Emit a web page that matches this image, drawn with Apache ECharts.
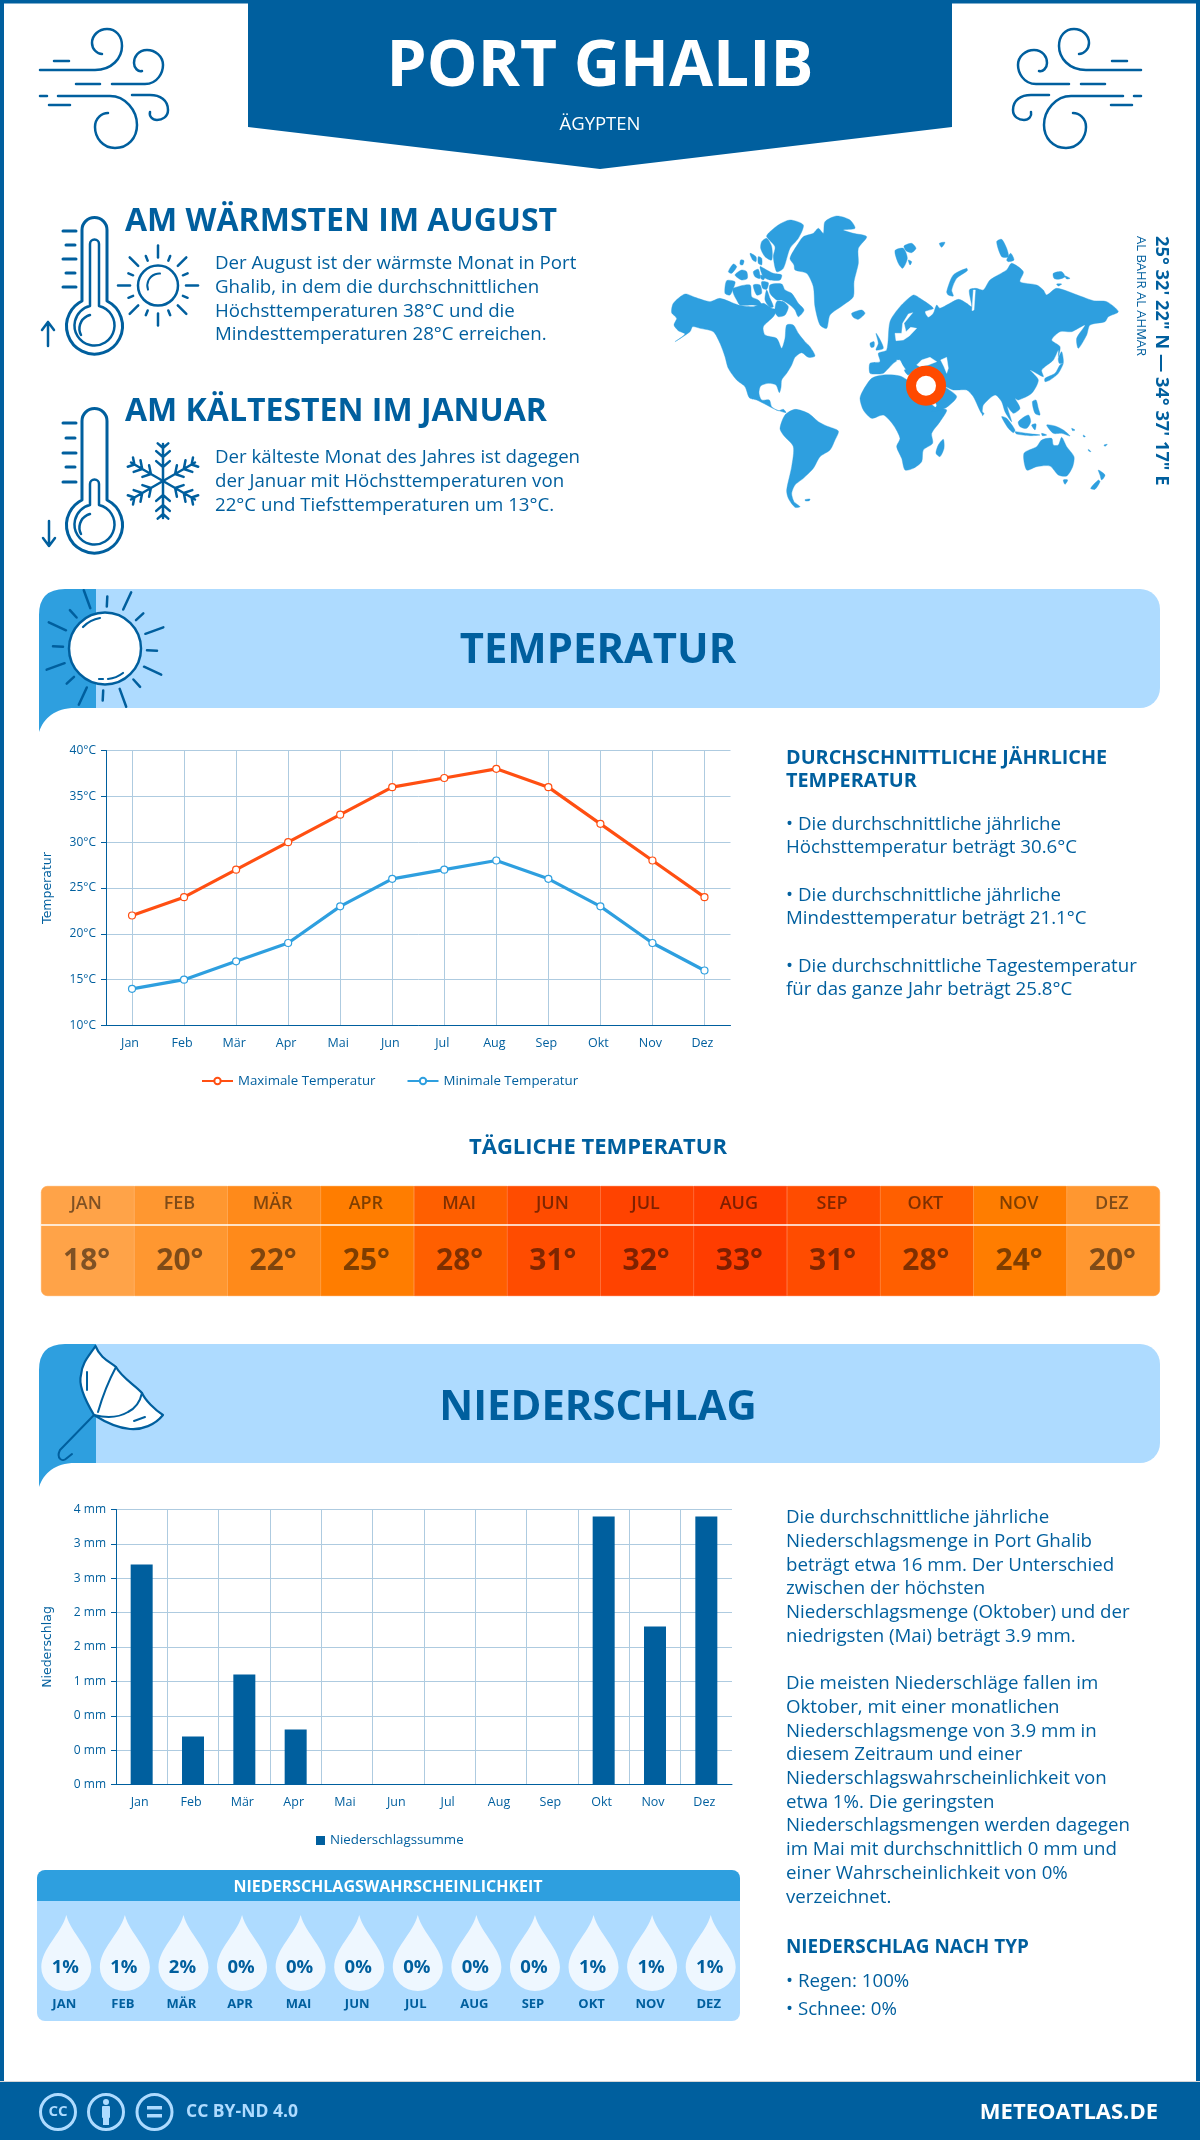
<!DOCTYPE html>
<html><head><meta charset="utf-8">
<style>html,body{margin:0;padding:0;background:#fff}#c{width:1200px;height:2140px}</style>
<script src="https://cdn.jsdelivr.net/npm/echarts@6/dist/echarts.min.js"></script>
</head><body><div id="c"></div>
<script>
const months = ['Jan','Feb','Mär','Apr','Mai','Jun','Jul','Aug','Sep','Okt','Nov','Dez'];
const monthsUpper = ['JAN','FEB','MÄR','APR','MAI','JUN','JUL','AUG','SEP','OKT','NOV','DEZ'];
const tempMax = [22,24,27,30,33,36,37,38,36,32,28,24];
const tempMin = [14,15,17,19,23,26,27,28,26,23,19,16];
const dailyTemp = [18,20,22,25,28,31,32,33,31,28,24,20];
const dailyColors = ['#ffa348','#ff9730','#ff8a1a','#ff7d00','#ff5f00','#ff4c00','#ff4300','#ff3d00','#ff4c00','#ff5f00','#ff7d00','#ff9730'];
const precip = [3.2,0.7,1.6,0.8,0,0,0,0,0,3.9,2.3,3.9];
const precipTicks = ['0 mm','0 mm','0 mm','1 mm','2 mm','2 mm','3 mm','3 mm','4 mm'];
const precipProb = [1,1,2,0,0,0,0,0,0,1,1,1];
const tempSide = [
 ['• Die durchschnittliche jährliche',825],['Höchsttemperatur beträgt 30.6°C',848],
 ['• Die durchschnittliche jährliche',896],['Mindesttemperatur beträgt 21.1°C',919],
 ['• Die durchschnittliche Tagestemperatur',967],['für das ganze Jahr beträgt 25.8°C',990]];
const precipSide = ['Die durchschnittliche jährliche','Niederschlagsmenge in Port Ghalib','beträgt etwa 16 mm. Der Unterschied','zwischen der höchsten','Niederschlagsmenge (Oktober) und der','niedrigsten (Mai) beträgt 3.9 mm.','',
 'Die meisten Niederschläge fallen im','Oktober, mit einer monatlichen','Niederschlagsmenge von 3.9 mm in','diesem Zeitraum und einer','Niederschlagswahrscheinlichkeit von','etwa 1%. Die geringsten','Niederschlagsmengen werden dagegen','im Mai mit durchschnittlich 0 mm und','einer Wahrscheinlichkeit von 0%','verzeichnet.'];
const warmText = ['Der August ist der wärmste Monat in Port','Ghalib, in dem die durchschnittlichen','Höchsttemperaturen 38°C und die','Mindesttemperaturen 28°C erreichen.'];
const coldText = ['Der kälteste Monat des Jahres ist dagegen','der Januar mit Höchsttemperaturen von','22°C und Tiefsttemperaturen um 13°C.'];

const NAVY='#005f9e', SKY='#2e9fdf', PALE='#aedbff', FONT='"Open Sans",sans-serif';

// outline helper for the decorative world map: crop origin + traced points
function P(ox,oy,s){return s.trim().split(/\s+/).map(p=>{const [a,b]=p.split(',').map(Number);return [ox+a/3,oy+b/3];});}
const A=(s)=>P(670,210,s), B=(s)=>P(890,210,s), C=(s)=>P(720,350,s), D=(s)=>P(930,350,s);
const landShapes=[
 // North & Central America
 A('5,308 10,280 45,252 75,262 120,275 150,265 205,285 250,290 280,280 305,295 320,300 310,320 280,350 285,375 320,385 335,415 345,385 350,345 370,345 385,370 405,395 420,410 435,438').concat(
 C('265,22 245,8 225,22 215,45 200,70 185,90 183,112 178,128 168,105 145,100 122,108 117,130 125,150 148,150 155,170 175,182 190,178 198,188 165,178 140,165 110,150 88,143 75,110 50,90 25,55 15,20'),
 A('150,400 130,365 90,355 68,350 60,365 15,395 45,372 25,362 12,345 20,325')),
 // Arctic islands
 A('295,70 325,45 360,30 400,45 385,85 360,115 340,175 320,185 310,140 315,110 290,80'),
 A('275,95 290,85 305,110 305,150 285,140 272,115'),
 A('175,185 190,162 200,170 185,190'),A('195,195 215,180 230,185 232,205 215,210'),A('212,150 222,152 218,165 210,163'),
 A('240,130 258,140 258,155 248,150'),A('265,140 275,145 275,165 265,160'),A('250,185 265,178 270,205 255,200'),
 A('270,170 290,180 310,190 335,195 330,210 300,210 280,200'),A('272,195 285,200 280,210 272,205'),
 A('170,212 195,215 190,235 180,255 165,250'),A('190,235 240,225 245,260 265,270 275,285 245,285 210,285 200,270 190,250'),
 A('250,225 270,225 275,250 260,255'),A('275,215 295,218 290,238 278,235'),
 A('300,225 335,222 345,240 365,250 385,280 402,300 385,320 375,300 360,285 335,270 320,270 300,250'),
 A('290,240 300,265 310,290 300,292 285,270'),A('320,275 340,275 355,290 345,315 325,320 315,305'),
 // Greenland, Iceland, British Isles
 A('360,145 385,100 400,80 430,70 445,55 460,70 465,35 500,18 540,30 555,55 520,60 550,70 590,80 565,115 565,160 552,215 550,260 520,285 480,315 470,355 450,345 435,290 430,230 410,190 375,180 372,165'),
 A('545,310 575,300 585,310 565,328 550,322'),A('600,400 612,395 612,410 603,412'),A('618,370 628,385 640,415 618,420 625,400'),
 // South America
 C('180,235 195,195 225,178 265,190 295,215 320,228 355,243 345,270 330,300 300,320 280,355 250,385 225,405 215,430 222,455 240,470 225,472 205,445 200,420 215,350 220,290 190,255'),
 C('255,449 270,447 268,452 257,453'),
 // Africa
 C('420,145 430,120 455,85 490,75 540,78 575,100 600,130 650,175 680,180 660,215 635,250 638,280 610,300 605,335 580,355 555,360 545,325 530,290 540,265 520,225 490,195 455,205 430,180'),
 C('670,268 672,295 660,320 648,310 655,285'),
 // Eurasia
 C('450,70 450,40 480,35 475,10 500,0').concat(
 B('0,335 30,290 70,255 90,265 130,295 105,305 115,322 130,310 140,285 150,295 205,268 230,280 245,290 238,240 258,235 280,240 300,210 350,180 365,160 400,185 390,215 440,225 460,240 470,255 500,235 570,258 610,272 650,275 685,305 655,320 645,335 600,345 590,375 565,415 560,385 585,345 545,365 510,365 485,390 510,410 505,440'),
 D('385,0 370,30 335,60 340,80 300,60 325,90 305,130 265,150 255,145 270,175 250,190 232,170 245,215 225,185 215,155 195,135 160,165 155,190 130,140 110,120 70,120 45,110 80,140 45,175 5,185'),
 C('650,165 610,110 590,80 630,62 590,55 565,75 555,65 540,30 520,40 490,70 470,72')),
 // Eurasian islands
 B('15,122 40,115 52,145 38,175 25,160'),B('42,108 65,100 78,115 65,128 48,122'),B('55,150 65,155 60,165'),B('148,100 165,97 155,112'),
 B('170,245 190,195 230,175 232,182 200,205 185,240 190,258 175,255'),B('320,95 335,88 350,115 355,140 335,140'),B('350,150 362,130 372,150 355,155'),
 B('490,190 515,185 525,200 505,208 492,205'),B('525,198 540,205 530,207'),B('500,222 515,222 505,228'),
 D('345,95 345,85 375,70 390,45 400,40 385,70 360,90'),D('385,25 395,5 400,38 388,40'),D('307,155 318,150 325,175 330,195 315,190'),
 D('215,200 230,205 255,240 250,248 235,235'),D('255,245 290,250 330,255 300,257 260,252'),D('265,215 295,195 302,215 290,235 270,230'),D('305,225 318,222 315,240'),
 D('350,225 375,228 400,240 420,258 395,250 370,250'),D('425,235 435,240 428,242'),D('475,298 483,305 476,303'),D('522,285 532,283 525,289'),D('460,255 466,260 461,261'),D('335,250 350,255 337,257'),
 D('155,185 162,190 158,197'),
 // Australia and New Zealand
 D('282,310 320,290 335,270 365,265 370,285 385,285 395,262 410,290 432,320 428,350 410,378 385,375 360,348 320,350 290,360'),
 D('400,390 413,390 405,403'),D('505,360 525,375 515,390 510,375'),D('482,415 505,390 510,395 495,418')
];
const waterShapes=[
 B('18,392 40,390 58,378 80,355 62,352 48,365 42,340 68,308 55,312 38,340 35,370 15,370'),
 B('250,240 256,240 252,300 246,302'),
 C('590,45 605,30 630,22 650,35 625,45 600,50'),D('32,30 50,22 55,55 50,70 42,50'),C('530,30 538,32 556,58 550,60')
];

const windPaths = [
 'M40,70 H95 C112,70 122,58 122,46 C122,36 116,29 107,29 C99,29 92,35 92,43 C92,49 97,54 102,54',
 'M54,61 H69','M76,84 H100',
 'M112,84 H145 C158,84 163,72 163,65 C163,56 155,50 147,50 C138,50 134,57 134,63 C134,68 138,72 142,71',
 'M40,96 H47','M58,96 H110 C125,96 137,110 137,125 C137,138 128,148 115,148 C103,148 95,138 95,127 C95,118 102,113 108,113',
 'M132,95 H150 C160,95 168,100 168,110 C168,117 162,120 157,120 C152,120 149,116 150,112','M49,105 H70'
];

function txt(text,x,y,size,weight,color,align,rot){
  return {type:'text',x:rot?x:0,y:rot?y:0,rotation:rot||0,silent:true,
    style:{text,x:rot?0:x,y:rot?0:y,fill:color||NAVY,font:`${weight||400} ${size}px ${FONT}`,textAlign:align||'left',textVerticalAlign:'middle'}};
}
function line(d,w,c,fill){return {type:'path',silent:true,shape:{pathData:d},style:{fill:fill||'none',stroke:c||NAVY,lineWidth:w||2.5,lineCap:'round',lineJoin:'round'}};}
function poly(pts,c,sm){return {type:'polygon',silent:true,shape:{points:pts,smooth:sm||0},style:{fill:c,stroke:c,lineWidth:0.4,lineJoin:'round'}};}
function rect(x,y,w,h,c,r){return {type:'rect',silent:true,shape:{x,y,width:w,height:h,r:r||0},style:{fill:c}};}

function thermometer(hot){
  const top=hot?230:421, bulb=hot?325:524, out=[];
  out.push(line(`M82,${top} A12,12 0 0 1 107,${top} L107,${bulb-24} A28,28 0 1 1 82,${bulb-24} Z`,3));
  if(hot) out.push(line(`M90,${top+14} A4,4 0 0 1 99,${top+14} L99,${bulb-19} A20,20 0 1 1 90,${bulb-19} Z`,2.5));
  else out.push(line(`M90,${bulb-40} A4,4 0 0 1 99,${bulb-40} L99,${bulb-19} A20,20 0 1 1 90,${bulb-19} Z`,2.5));
  out.push(line(`M81,${bulb+10} A14,14 0 0 1 90,${bulb-10}`,2.5));
  const ty=hot?[231,245,259,273,287]:[423,438,453,467,482];
  ty.forEach((y,i)=>out.push(line(`M${i%2?66:63},${y} H${i%2?75:76}`,3)));
  if(hot) out.push(line('M48,346 V322 M42,330 L48,322 L54,330',2.5));
  else out.push(line('M49,521 V546 M43,538 L49,546 L55,538',2.5));
  return out;
}
function sunIcon(cx,cy){
  const o=[{type:'circle',silent:true,shape:{cx,cy,r:20},style:{fill:'none',stroke:NAVY,lineWidth:2.5}},line(`M${cx-10},${cy+4} A12,12 0 0 1 ${cx+2},${cy-12}`,2)];
  for(let i=0;i<16;i++){const a=(-90+i*22.5)*Math.PI/180,long=i%2==0,r1=long?28:27,r2=long?40:32;
    o.push(line(`M${(cx+r1*Math.cos(a)).toFixed(1)},${(cy+r1*Math.sin(a)).toFixed(1)} L${(cx+r2*Math.cos(a)).toFixed(1)},${(cy+r2*Math.sin(a)).toFixed(1)}`,2.5));}
  return o;
}
function snow(cx,cy){
  const o=[],R=37;
  for(let i=0;i<6;i++){
    const a=(i*60-90)*Math.PI/180, c=Math.cos(a), s=Math.sin(a);
    let d=`M${cx},${cy} L${(cx+R*c).toFixed(1)},${(cy+R*s).toFixed(1)}`;
    [[14,9],[24,9],[33,7]].forEach(([p,l])=>{
      [-1,1].forEach(sg=>{const b=a+sg*0.85;
        d+=` M${(cx+p*c).toFixed(1)},${(cy+p*s).toFixed(1)} L${(cx+p*c+l*Math.cos(b)).toFixed(1)},${(cy+p*s+l*Math.sin(b)).toFixed(1)}`;});
    });
    o.push(line(d,2.5));
  }
  return o;
}
function banner(y0,y1){
  const mid=96;
  return [
    {type:'path',silent:true,shape:{pathData:`M${mid},${y0} H1140 A20,20 0 0 1 1160,${y0+20} V${y1-20} A20,20 0 0 1 1140,${y1} H${mid} Z`},style:{fill:PALE}},
    {type:'path',silent:true,shape:{pathData:`M39,${y0+26} Q39,${y0} 65,${y0} L${mid},${y0} L${mid},${y1} L75,${y1} C55,${y1} 44,${y1+10} 39,${y1+24} Z`},style:{fill:SKY}}
  ];
}
function bannerSun(){
  const cx=105,cy=648.5,o=[];
  for(let i=0;i<16;i++){const a=(-110+i*22.5)*Math.PI/180,long=i%2==0,r1=long?43:42,r2=long?62:52;
    o.push(line(`M${(cx+r1*Math.cos(a)).toFixed(1)},${(cy+r1*Math.sin(a)).toFixed(1)} L${(cx+r2*Math.cos(a)).toFixed(1)},${(cy+r2*Math.sin(a)).toFixed(1)}`,2.5));}
  o.push({type:'circle',silent:true,shape:{cx,cy,r:36},style:{fill:'#fff',stroke:NAVY,lineWidth:2.5}});
  o.push(line('M83,627 A30,30 0 0 1 100,618',2.2),line('M108,679 A30,30 0 0 0 123,673 M99,679 H103',2.2));
  return o;
}
function umbrella(){
  return [
    line('M95.5,1346 C100,1358 110,1362 116,1367 C122,1378 135,1385 142,1393 C145,1400 155,1410 163,1415 C155,1425 142,1430 130,1429 C118,1428 105,1422 94,1415 C85,1400 78,1385 81,1375 C82,1362 90,1355 95.5,1346 Z',2.2,NAVY,'#fff'),
    line('M116,1367 C108,1382 102,1398 98,1412 M142,1393 C140,1402 136,1408 128,1412 C118,1418 106,1418 94,1415',2),
    line('M87,1372 V1390 M134,1421 L145,1417',2),
    line('M94,1415 L60,1450 C56,1458 62,1463 67,1458 L72,1454',2)
  ];
}

function decor(){
  const el=[];
  el.push(rect(0,0,4,2140,NAVY),rect(1196,0,4,2140,NAVY),rect(0,0,1200,3.5,NAVY));
  el.push({type:'polygon',silent:true,shape:{points:[[248,0],[952,0],[952,127],[600,169],[248,127]]},style:{fill:NAVY}});
  el.push(rect(0,2082,1200,58,NAVY),rect(0,2081,1200,1,'#d6d6d6'));
  el.push(txt('PORT GHALIB',600,68,64,700,'#fff','center'),txt('ÄGYPTEN',600,125,18.5,400,'#fff','center'));
  el.push({type:'group',children:windPaths.map(d=>line(d,2.5))});
  el.push({type:'group',x:1181,y:0,scaleX:-1,scaleY:1,children:windPaths.map(d=>line(d,2.5))});
  el.push(txt('AM WÄRMSTEN IM AUGUST',125,222,32,700),txt('AM KÄLTESTEN IM JANUAR',125,412,32,700));
  warmText.forEach((s,i)=>el.push(txt(s,215,264+i*23.7,18.7)));
  coldText.forEach((s,i)=>el.push(txt(s,215,458+i*23.7,18.7)));
  el.push(...thermometer(true),...thermometer(false),...sunIcon(158,285.6),...snow(163,481));
  landShapes.forEach(p=>el.push(poly(p,SKY,0.25)));
  waterShapes.forEach(p=>el.push(poly(p,'#fff',0)));
  el.push({type:'circle',silent:true,shape:{cx:926,cy:385.7,r:15},style:{fill:'#fff',stroke:'#ff4a00',lineWidth:10}});
  el.push(txt('25° 32\' 22" N — 34° 37\' 17" E',1161,236,18.3,700,NAVY,'left',-Math.PI/2));
  el.push(txt('AL BAHR AL AHMAR',1141,236,13,400,NAVY,'left',-Math.PI/2));
  el.push(...banner(589,708),...bannerSun(),txt('TEMPERATUR',598,651,41.8,700,NAVY,'center'));
  el.push(...banner(1344,1463),...umbrella(),txt('NIEDERSCHLAG',598,1408,41.8,700,NAVY,'center'));
  el.push(txt('DURCHSCHNITTLICHE JÄHRLICHE',786,758,19.8,700),txt('TEMPERATUR',786,781,19.8,700));
  tempSide.forEach(([s,y])=>el.push(txt(s,786,y,18.7)));
  el.push(txt('TÄGLICHE TEMPERATUR',598,1148,22,700,NAVY,'center'));
  precipSide.forEach((s,i)=>{if(s)el.push(txt(s,786,1518+i*23.7,18.7));});
  el.push(txt('NIEDERSCHLAG NACH TYP',786,1948,18.9,700),txt('• Regen: 100%',786,1982,18.7),txt('• Schnee: 0%',786,2010,18.7));
  el.push({type:'path',silent:true,shape:{pathData:'M37,1901 V1878 A8,8 0 0 1 45,1870 H732 A8,8 0 0 1 740,1878 V1901 Z'},style:{fill:SKY}});
  el.push({type:'path',silent:true,shape:{pathData:'M37,1901 H740 V2013 A8,8 0 0 1 732,2021 H45 A8,8 0 0 1 37,2013 Z'},style:{fill:PALE}});
  el.push(txt('NIEDERSCHLAGSWAHRSCHEINLICHKEIT',388,1887,16,700,'#fff','center'));
  const LB='#aedbff';
  [58,106,154.5].forEach(cx=>el.push({type:'circle',silent:true,shape:{cx,cy:2112,r:17.5},style:{fill:'none',stroke:LB,lineWidth:3}}));
  el.push(txt('CC',58,2112,15,700,LB,'center'));
  el.push({type:'circle',silent:true,shape:{cx:106,cy:2102,r:3},style:{fill:LB}},rect(102,2106,8,12,LB,1),rect(103,2118,6,7,LB));
  el.push(rect(147,2106,15,3.5,LB),rect(147,2114,15,3.5,LB));
  el.push(txt('CC BY-ND 4.0',186,2112,17.5,700,LB),txt('METEOATLAS.DE',1158,2113,22,700,'#fff','right'));
  return el;
}

const axisLab={color:NAVY,fontFamily:FONT,fontSize:12};
const xLab={...axisLab,fontSize:12.5,margin:11,interval:0,padding:[0,4,0,0]};
const split={show:true,lineStyle:{color:'#aecbe0',width:1}};
const nameStyle={color:NAVY,fontFamily:'"DejaVu Sans",sans-serif',fontSize:12.5};
const option={
  animation:false,
  backgroundColor:'#fff',
  grid:[
    {left:106,right:469.5,top:750.5,height:275},
    {left:116,right:468,top:1509.5,height:275},
    {left:41,width:1119,top:1186,height:110},
    {left:37,width:703,top:1915,height:76}
  ],
  legend:[
    {data:['Maximale Temperatur','Minimale Temperatur'],left:196,top:1069.5,itemWidth:31,itemHeight:8,itemGap:31,textStyle:{color:NAVY,fontFamily:FONT,fontSize:13.3}},
    {data:['Niederschlagssumme'],left:311,top:1829,icon:'rect',itemWidth:9,itemHeight:9,textStyle:{color:NAVY,fontFamily:FONT,fontSize:13.3}}
  ],
  xAxis:[
    {gridIndex:0,type:'category',data:months,boundaryGap:true,axisTick:{show:false},axisLine:{lineStyle:{color:NAVY}},axisLabel:xLab,splitLine:{...split,alignWithLabel:true,interval:0}},
    {gridIndex:1,type:'category',data:months,boundaryGap:true,axisTick:{show:false},axisLine:{lineStyle:{color:NAVY}},axisLabel:xLab,splitLine:{...split,showMaxLine:false,interval:0}},
    {gridIndex:2,type:'category',data:monthsUpper,position:'top',z:10,axisTick:{show:false},axisLine:{show:false},axisLabel:{inside:true,margin:9,interval:0,padding:[0,3,0,0],color:'rgba(0,0,0,0.5)',fontFamily:FONT,fontSize:18,fontWeight:600}},
    {gridIndex:3,type:'category',data:monthsUpper,axisTick:{show:false},axisLine:{show:false},axisLabel:{margin:7,interval:0,padding:[0,4,0,0],color:NAVY,fontFamily:FONT,fontSize:13,fontWeight:700}}
  ],
  yAxis:[
    {gridIndex:0,type:'value',min:10,max:40,interval:5,name:'Temperatur',nameLocation:'middle',nameGap:52,nameRotate:90,nameTextStyle:nameStyle,
     axisLine:{show:true,lineStyle:{color:NAVY}},axisTick:{show:true,length:5,lineStyle:{color:NAVY}},axisLabel:{...axisLab,margin:10,formatter:'{value}°C'},splitLine:split},
    {gridIndex:1,type:'value',min:0,max:4,interval:0.5,name:'Niederschlag',nameLocation:'middle',nameGap:62,nameRotate:90,nameTextStyle:nameStyle,
     axisLine:{show:true,lineStyle:{color:NAVY}},axisTick:{show:true,length:5,lineStyle:{color:NAVY}},axisLabel:{...axisLab,margin:10,formatter:v=>precipTicks[Math.round(v/0.5)]},splitLine:split},
    {gridIndex:2,type:'value',min:0,max:1,show:false},
    {gridIndex:3,type:'value',min:-1,max:1,show:false}
  ],
  series:[
    {type:'custom',coordinateSystem:'none',data:[[0]],silent:true,z:0,renderItem:()=>({type:'group',children:decor()})},
    {name:'Maximale Temperatur',type:'line',xAxisIndex:0,yAxisIndex:0,data:tempMax,z:5,lineStyle:{color:'#ff4f12',width:3.2},symbol:'circle',symbolSize:7,itemStyle:{color:'#fff',borderColor:'#ff4f12',borderWidth:1.2}},
    {name:'Minimale Temperatur',type:'line',xAxisIndex:0,yAxisIndex:0,data:tempMin,z:5,lineStyle:{color:SKY,width:3.2},symbol:'circle',symbolSize:7,itemStyle:{color:'#fff',borderColor:SKY,borderWidth:1.2}},
    {name:'Niederschlagssumme',type:'bar',xAxisIndex:1,yAxisIndex:1,data:precip,barWidth:22,itemStyle:{color:NAVY},z:5},
    {name:'Tägliche Temperatur',type:'bar',xAxisIndex:2,yAxisIndex:2,barWidth:'100%',z:5,
     data:dailyTemp.map((v,i)=>({value:1,temp:v,itemStyle:{color:dailyColors[i],borderColor:dailyColors[i],borderWidth:0.6,borderRadius:i==0?[6,0,0,6]:i==11?[0,6,6,0]:0}})),
     label:{show:true,position:'inside',offset:[-1,20],color:'rgba(0,0,0,0.5)',fontFamily:FONT,fontSize:30,fontWeight:700,formatter:p=>dailyTemp[p.dataIndex]+'°'},
     markLine:{silent:true,symbol:'none',label:{show:false},lineStyle:{color:'#fff',width:1.5,type:'solid'},data:[{yAxis:0.645}],z:8}},
    {name:'Niederschlagswahrscheinlichkeit',type:'scatter',xAxisIndex:3,yAxisIndex:3,z:5,
     data:precipProb.map((p,i)=>[i,0]),
     symbol:'path://M50,0 C60,40 100,70 100,110 A50,50 0 0 1 0,110 C0,70 40,40 50,0 Z',symbolSize:[50,76],itemStyle:{color:'#eef7ff',opacity:1},
     label:{show:true,position:'inside',offset:[-1,15],color:NAVY,fontFamily:FONT,fontSize:18.5,fontWeight:700,formatter:p=>precipProb[p.dataIndex]+'%'}}
  ]
};
echarts.init(document.getElementById('c')).setOption(option);
</script></body></html>
